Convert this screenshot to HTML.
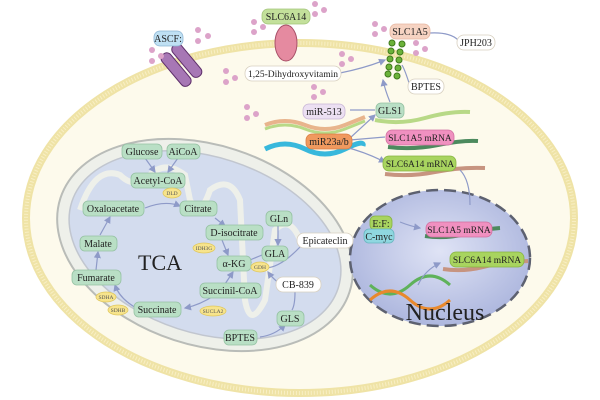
<!DOCTYPE html>
<html><head><meta charset="utf-8"><style>
html,body{margin:0;padding:0;background:#fff;width:600px;height:400px;overflow:hidden;}
svg{display:block;}
text{font-family:"Liberation Serif",serif;}
</style></head><body>
<svg width="600" height="400" viewBox="0 0 600 400" xmlns="http://www.w3.org/2000/svg">
<defs>
<radialGradient id="nuc" cx="0.5" cy="0.45" r="0.6"><stop offset="0" stop-color="#dfe3f5"/><stop offset="1" stop-color="#a9b3dc"/></radialGradient>
<marker id="ar" markerWidth="6" markerHeight="6" refX="5" refY="3" orient="auto"><path d="M0,0 L6,3 L0,6z" fill="#8e9ac8"/></marker>
</defs>
<rect width="600" height="400" fill="#fff"/>
<ellipse cx="300" cy="218" rx="274" ry="175" fill="#fdfaec" stroke="#efe3a6" stroke-width="8"/>
<ellipse cx="300" cy="218" rx="274" ry="175" fill="none" stroke="#f8efc5" stroke-width="4" stroke-dasharray="1 2"/>
<g transform="rotate(18 205 245)">
<ellipse cx="205" cy="245" rx="152" ry="100" fill="#eef0ea" stroke="#b9bcb8" stroke-width="2"/>
<ellipse cx="205" cy="245" rx="140" ry="88" fill="#d3dcee" stroke="#c1c6cf" stroke-width="1.5"/>
</g>
<path d="M80,210 Q95,165 120,175 Q135,190 150,175 Q165,160 185,175 L190,200 Q200,220 210,190 Q230,175 240,200 L245,300 Q250,330 265,300 L275,230 Q290,215 300,240" fill="none" stroke="#eef0ea" stroke-width="6"/>
<ellipse cx="440" cy="258" rx="90" ry="68" fill="url(#nuc)" stroke="#5d6170" stroke-width="2.5" stroke-dasharray="12 6"/>
<g transform="rotate(-40 178 68)"><rect x="170" y="48" width="11" height="40" rx="5" fill="#a777b5" stroke="#5e2f6a"/><rect x="184" y="48" width="11" height="40" rx="5" fill="#a777b5" stroke="#5e2f6a"/></g>
<ellipse cx="286" cy="43" rx="11" ry="18" fill="#e58aa0" stroke="#a85068"/>
<g fill="#6bb23a" stroke="#3f7a1c"><circle cx="392" cy="43" r="3"/><circle cx="391" cy="51" r="3"/><circle cx="390" cy="59" r="3"/><circle cx="389" cy="67" r="3"/><circle cx="388" cy="74" r="3"/><circle cx="402" cy="44" r="3"/><circle cx="400" cy="52" r="3"/><circle cx="399" cy="60" r="3"/><circle cx="398" cy="68" r="3"/><circle cx="397" cy="76" r="3"/></g>
<g fill="#dca3c9">
<circle cx="198" cy="30" r="3"/><circle cx="208" cy="36" r="3"/><circle cx="198" cy="41" r="3"/>
<circle cx="152" cy="50" r="3"/><circle cx="161" cy="56" r="3"/><circle cx="152" cy="61" r="3"/>
<circle cx="254" cy="22" r="3"/><circle cx="263" cy="27" r="3"/><circle cx="254" cy="32" r="3"/>
<circle cx="315" cy="4" r="3"/><circle cx="324" cy="10" r="3"/><circle cx="315" cy="14" r="3"/>
<circle cx="375" cy="24" r="3"/><circle cx="384" cy="29" r="3"/><circle cx="375" cy="34" r="3"/>
<circle cx="416" cy="43" r="3"/><circle cx="425" cy="49" r="3"/><circle cx="416" cy="53" r="3"/>
<circle cx="342" cy="54" r="3"/><circle cx="351" cy="59" r="3"/><circle cx="342" cy="64" r="3"/>
<circle cx="226" cy="71" r="3"/><circle cx="235" cy="78" r="3"/><circle cx="226" cy="82" r="3"/>
<circle cx="314" cy="87" r="3"/><circle cx="323" cy="92" r="3"/><circle cx="314" cy="97" r="3"/>
<circle cx="247" cy="107" r="3"/><circle cx="256" cy="114" r="3"/><circle cx="247" cy="118" r="3"/>
</g>
<path d="M265,125 q20,-8 40,0 t40,0 t20,-8" fill="none" stroke="#e8b48c" stroke-width="4"/>
<path d="M265,129 q20,-8 40,0 t40,0 t20,-8" fill="none" stroke="#b8d987" stroke-width="3"/>
<path d="M265,149 q20,-10 40,0 t40,0 t18,-3" fill="none" stroke="#38b8dc" stroke-width="5"/>
<path d="M375,120 q25,5 50,-2 t45,-6" fill="none" stroke="#b8d987" stroke-width="4"/>
<path d="M388,147 q25,3 50,-2 t40,-4" fill="none" stroke="#4c8a5e" stroke-width="4"/>
<path d="M385,174 q25,3 50,-2 t50,-4" fill="none" stroke="#c79480" stroke-width="4"/>
<path d="M425,236 q20,3 40,-2 t35,-6" fill="none" stroke="#4c8a5e" stroke-width="4"/>
<path d="M443,269 q20,3 40,-2 t45,-6" fill="none" stroke="#c79480" stroke-width="4"/>
<g fill="none" stroke-width="3"><path d="M370,285 q20,18 40,0 t40,0" stroke="#5fb25a"/><path d="M370,300 q20,-18 40,0 t40,0" stroke="#e8892d"/></g>
<g fill="none" stroke="#8e9ac8" stroke-width="1.2">
<path d="M340,73 Q365,68 385,60" marker-end="url(#ar)"/>
<path d="M410,86 Q405,70 402,65"/>
<path d="M430,33 Q450,32 458,40"/>
<path d="M350,110 L375,110"/>
<path d="M390,102 Q385,90 383,80" marker-end="url(#ar)"/>
<path d="M350,138 L375,115" marker-end="url(#ar)"/>
<path d="M350,140 L385,137"/>
<path d="M345,147 Q365,152 385,162" marker-end="url(#ar)"/>
<path d="M400,222 Q410,226 420,228" marker-end="url(#ar)"/>
<path d="M418,285 Q425,270 440,263" marker-end="url(#ar)"/>
<path d="M470,205 Q470,180 460,170"/>
<path d="M145,158 L155,172" marker-end="url(#ar)"/>
<path d="M178,158 L168,172" marker-end="url(#ar)"/>
<path d="M145,208 Q165,200 180,206" marker-end="url(#ar)"/>
<path d="M215,218 L225,226" marker-end="url(#ar)"/>
<path d="M222,240 L228,255" marker-end="url(#ar)"/>
<path d="M278,226 L278,245" marker-end="url(#ar)"/>
<path d="M262,255 L245,262" marker-end="url(#ar)"/>
<path d="M300,247 Q280,268 265,268"/>
<path d="M290,290 Q275,282 268,272" marker-end="url(#ar)"/>
<path d="M295,292 Q295,305 292,310"/>
<path d="M260,337 Q275,335 285,325" marker-end="url(#ar)"/>
<path d="M225,284 L233,272" marker-end="url(#ar)"/>
<path d="M215,295 Q200,305 185,308" marker-end="url(#ar)"/>
<path d="M140,310 Q120,300 115,285" marker-end="url(#ar)"/>
<path d="M96,270 L98,252" marker-end="url(#ar)"/>
<path d="M100,235 L110,217" marker-end="url(#ar)"/>
</g>
<g font-size="10" text-anchor="middle" stroke-width="0.8">
<g fill="#b9dfc5" stroke="#95c2a3">
<rect x="122" y="144" width="40" height="15" rx="5"/><rect x="167" y="144" width="33" height="15" rx="5"/>
<rect x="131" y="173" width="54" height="15" rx="5"/><rect x="83" y="201" width="61" height="15" rx="5"/>
<rect x="180" y="201" width="37" height="15" rx="5"/><rect x="266" y="211" width="26" height="15" rx="5"/>
<rect x="206" y="225" width="57" height="15" rx="5"/><rect x="80" y="236" width="37" height="15" rx="5"/>
<rect x="262" y="246" width="26" height="15" rx="5"/><rect x="217" y="256" width="34" height="15" rx="5"/>
<rect x="72" y="270" width="49" height="15" rx="5"/><rect x="200" y="283" width="61" height="15" rx="5"/>
<rect x="134" y="302" width="47" height="15" rx="5"/><rect x="277" y="311" width="27" height="15" rx="5"/>
<rect x="224" y="330" width="33" height="15" rx="5"/><rect x="376" y="103" width="28" height="15" rx="5"/>
</g>
<g fill="#fff" stroke="#d8d0c0">
<rect x="297" y="233" width="56" height="15" rx="7"/><rect x="276" y="277" width="45" height="15" rx="7"/>
<rect x="245" y="66" width="96" height="15" rx="7"/><rect x="408" y="79" width="36" height="15" rx="7"/>
<rect x="457" y="35" width="38" height="15" rx="7"/>
</g>
<rect x="154" y="31" width="29" height="15" rx="6" fill="#bfe0f3" stroke="#8fb6d4"/>
<rect x="262" y="9" width="48" height="15" rx="6" fill="#c3e09b" stroke="#a3c57a"/>
<rect x="390" y="24" width="40" height="15" rx="6" fill="#f6d3c2" stroke="#e6b7a1"/>
<rect x="303" y="104" width="42" height="15" rx="6" fill="#ece0f2" stroke="#c7b4d5"/>
<rect x="306" y="134" width="46" height="15" rx="6" fill="#f0995e" stroke="#d97e44"/>
<rect x="386" y="130" width="68" height="15" rx="6" fill="#f090c0" stroke="#d070a0"/>
<rect x="383" y="156" width="73" height="15" rx="6" fill="#a8d45f" stroke="#86b440"/>
<rect x="370" y="216" width="22" height="14" rx="5" fill="#a8d45f" stroke="#86b440"/>
<rect x="364" y="229" width="30" height="14" rx="5" fill="#8fd7e0" stroke="#6ab6c0"/>
<rect x="426" y="222" width="66" height="15" rx="6" fill="#f090c0" stroke="#d070a0"/>
<rect x="450" y="252" width="74" height="15" rx="6" fill="#a8d45f" stroke="#86b440"/>
<g fill="#222">
<text x="142" y="155">Glucose</text><text x="183" y="155">AiCoA</text><text x="158" y="184">Acetyl-CoA</text>
<text x="113" y="212">Oxaloacetate</text><text x="198" y="212">Citrate</text><text x="279" y="222">GLn</text>
<text x="234" y="236">D-isocitrate</text><text x="98" y="247">Malate</text><text x="275" y="257">GLA</text>
<text x="234" y="267">α-KG</text><text x="96" y="281">Fumarate</text><text x="230" y="294">Succinil-CoA</text>
<text x="157" y="313">Succinate</text><text x="290" y="322">GLS</text><text x="240" y="341">BPTES</text>
<text x="390" y="114">GLS1</text><text x="325" y="244">Epicateclin</text><text x="298" y="288">CB-839</text>
<text x="293" y="77" font-size="9.5">1,25-Dihydroxyvitamin</text><text x="426" y="90">BPTES</text><text x="476" y="46">JPH203</text>
<text x="168" y="42">ASCF:</text><text x="286" y="20">SLC6A14</text><text x="410" y="35">SLC1A5</text>
<text x="324" y="115">miR-513</text><text x="329" y="145">miR23a/b</text><text x="420" y="141" font-size="9.5">SLC1A5 mRNA</text>
<text x="420" y="167" font-size="9.5">SLC6A14 mRNA</text><text x="381" y="227">E:F:</text><text x="379" y="240">C-myc</text>
<text x="459" y="233" font-size="9.5">SLC1A5 mRNA</text><text x="487" y="263" font-size="9.5">SLC6A14 mRNA</text>
</g>
<g fill="#f7e48c" stroke="#e0c860">
<ellipse cx="172" cy="193" rx="9" ry="5"/><ellipse cx="204" cy="248" rx="11" ry="5"/><ellipse cx="260" cy="267" rx="9" ry="5"/>
<ellipse cx="106" cy="297" rx="10" ry="5"/><ellipse cx="118" cy="310" rx="10" ry="5"/><ellipse cx="213" cy="311" rx="13" ry="5"/>
</g>
<g fill="#555" font-size="5.5"><text x="172" y="195">DLD</text><text x="204" y="250">IDH3G</text><text x="260" y="269">GDH</text>
<text x="106" y="299">SDHA</text><text x="118" y="312">SDHB</text><text x="213" y="313">SUCLA2</text></g>
</g>
<text x="160" y="270" font-size="22" text-anchor="middle" fill="#222">TCA</text>
<text x="445" y="320" font-size="24" text-anchor="middle" fill="#222">Nucleus</text>
</svg>
</body></html>
